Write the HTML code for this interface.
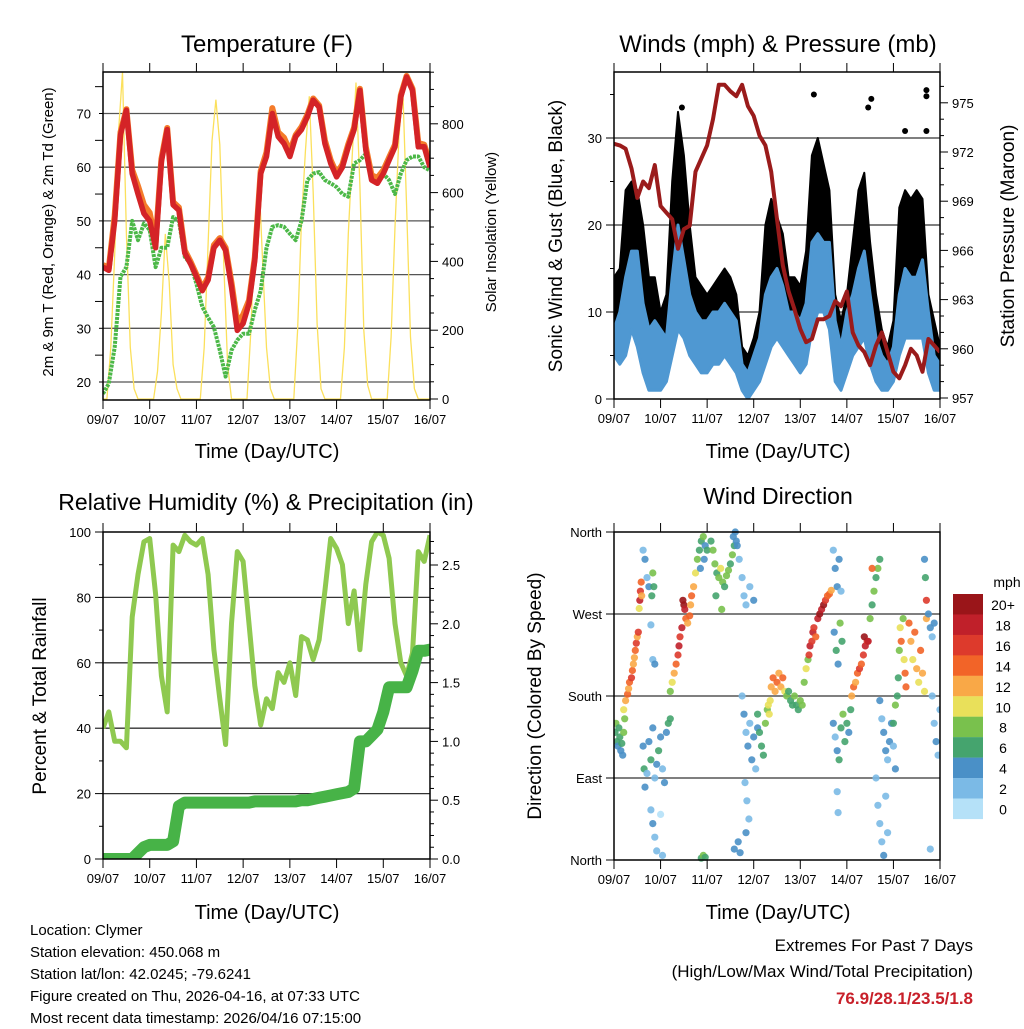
<!DOCTYPE html>
<html><head><meta charset="utf-8"><style>
body{margin:0;background:#fff}
svg text{font-family:"Liberation Sans",sans-serif;fill:#000}
</style></head><body>
<svg id="c" width="1024" height="1024" viewBox="0 0 1024 1024" xmlns="http://www.w3.org/2000/svg"></svg>
<script>
// ---- data (3-hourly, 0..168 h from 09/07 00 UTC) ----
const dayLabels=["09/07","10/07","11/07","12/07","13/07","14/07","15/07","16/07"];
const temp9m=[41.4,40.8,50,66,70.6,58.8,55,51.4,50,45,61,67,53,52,44,42,39.6,37,39,45,46.4,44.5,37.7,29.6,30.9,34.6,42.7,58.8,62,70,65.7,64.4,62,65.7,67,69.4,72.5,71.2,64.4,60.7,58.2,60,63.8,67,74.3,63.2,57.6,57,58.8,61.3,63.8,73.1,76.8,74.3,63.8,63.8,60];
const temp2m=[41.8,41.2,51,66.5,70.8,59.5,56.5,53,51.5,46,61.5,67.3,53.5,52.5,44.5,42.4,40,37.4,39.5,45.5,46.8,45,38.5,31,32.5,35.2,43.2,59.3,62.8,71,66.5,65.5,63,66,67.5,69.8,72.8,71.5,65,61.3,58.8,60.5,64.3,67.4,74.6,63.8,58.5,58,59.4,61.8,64.2,73.4,77,74.6,64.5,64.2,60.8];
const dewpt=[17.8,19.7,26.5,39.6,41.4,50,46.4,49.5,48.3,41.4,45,45,50.7,50,43.3,42,38.3,34,32,30.2,25.9,21,25.9,27.8,29,29,33.4,37,45,48.9,49.2,48.9,47.6,46.4,50,57.6,58.8,59.1,57.6,57,56.3,55,54.5,60.7,61.3,62.5,58.8,57.6,58.8,57.6,55,58.8,61.3,62,62,60,59.4];
// solar (2-hourly, 0..168 h)
const solar=[0,0,150,420,780,950,480,150,30,0,0,0, 0,0,80,250,480,340,100,30,0,0,0,0, 0,0,150,450,750,870,740,400,100,0,0,0, 0,0,200,500,660,400,150,30,0,0,0,0, 0,0,200,520,720,880,600,220,30,0,0,0, 0,0,150,480,700,920,620,200,40,0,0,0, 0,0,180,500,760,900,560,180,30,0,0,0, 0];
const pressure=[972.5,972.4,972.2,971,969.2,970.2,969.8,971.2,968.7,968.3,967.9,966.1,967.3,967.5,970.8,971.6,972.4,974,976.1,976.1,975.7,975.4,976.1,974.8,974.2,973,972.4,970.8,967.9,965.1,963.5,962.4,961.2,960.4,960.6,961.8,961.8,962,962.9,962.6,963.5,961,960.2,959.8,959,960.2,961,959.8,958.6,958.2,959,960,959.6,958.6,960.6,960.2,959.8];
const windLo=[5,4,5,8,6,3,1,1,1,2,5,8,7,5,4,3,3,4,4,5,4,3,1,0,1,2,4,6,7,6,5,4,3,4,8,10,10,8,2,1,3,5,6,7,4,2,1,1,2,5,7,7,7,7,3,1,1];
const windHi=[8,10,14,17,17,11,8,9,8,7,14,20,16,12,10,9,9,10,10,11,10,9,4,3,5,7,12,14,15,13,10,10,9,11,18,19,18,18,9,6,10,12,15,17,12,7,5,4,6,12,15,14,14,16,10,5,4];
const gustLo=[6,8,10,14,14,6,2,3,2,4,10,14,14,9,6,6,5,5,6,7,7,4,2,1,2,3,8,12,12,10,8,7,5,7,14,16,15,13,3,2,5,8,10,12,8,3,2,2,3,9,12,12,12,12,6,3,2];
const gustHi=[14,15,24,25,24,20,14,14,10,12,25,33,28,20,14,13,12,13,14,15,14,12,6,5,7,10,20,23,21,19,14,14,13,17,28,30,27,24,12,9,12,18,24,26,18,12,8,6,9,22,24,23,24,23,12,9,6];
const gustPeakHours=[35,103,131,132.6,150,161,161,161];
const gustPeakValues=[33.5,35,33.5,34.5,30.8,35.5,34.8,30.8];
const rh=[40,45,36,36,34,74,87,97,98,81,56,45,96,94,99,97,96,98,87,64,49,35,72,94,91,72,53,41,49,46,57,54,60,50,68,67,61,67,82,98,95,90,72,82,64,84,97,100,99,92,72,60,56,63,94,91,99];
const rain=[0,0,0,0,0,0,0.05,0.1,0.12,0.12,0.12,0.12,0.15,0.45,0.48,0.48,0.48,0.48,0.48,0.48,0.48,0.48,0.48,0.48,0.48,0.48,0.49,0.49,0.49,0.49,0.49,0.49,0.49,0.49,0.5,0.5,0.51,0.52,0.53,0.54,0.55,0.56,0.57,0.6,1.0,1.0,1.05,1.1,1.25,1.46,1.46,1.46,1.46,1.6,1.77,1.77,1.78];
const wdHour=[0.5,1,1.5,2,2.5,3,3.5,4,4.5,5,5.5,5,6,7,7.5,8,9,9.5,10,10.5,11,11.5,12,12.5,13,13.3,13.6,14,14.3,15,16,17,18,19,20,21,19.5,20,20.5,15,15.5,16,17,18,19,20,21,22,23,24,25,26,27,28,29,19,20,21,22,24,25,29,30,31,32,33,33.5,34,35,35.5,36,36.5,37,38,39,39.5,40,41,42,43,44,45,46,47,48,44.5,46.5,50,51,52,53,54,55,56,57,58,59,60,61,62,63,55.5,52.5,61.5,62.5,63.5,64.5,45,46,47,62,64,65,66,67,68,70,72,66,67,68,69,70,71,72,73,74,67.5,68.5,69.5,68,74,75,76,77,78,79,79.5,80,80.5,81,82,83,84,85,86,87,88,89,90,91,92,93,94,95,96,97,98,99,100,100.5,101,102,102.5,103,104,105,106,107,108,109,110,111,112,113,114,115,116,117,113.5,114.5,115.5,116.5,117.5,113,114,115,116,117,118,119,120,121,122,115,115.5,122.5,123.5,124.5,125.5,126.5,127.5,128.5,129.5,130.5,129,131,132,133,134,135,136,137,133,137,138,139,140,141,142,143,144,145,135,136,137,138,139,140,141,144,145,146,146.5,147,147.5,148,149,149.5,150,150.5,152,153,154,155,156,157,158,159,160,161,160,160.5,161,162,163,164,165,164,165,166,167,168,163];
const wdDir=[140,150,130,125,145,135,120,128,115,140,155,165,175,182,188,195,200,208,215,222,230,238,245,250,276,285,295,305,290,340,330,310,300,258,220,215,290,315,300,125,100,80,95,130,110,145,90,105,120,135,100,85,140,150,155,55,40,25,10,50,5,185,195,205,215,225,235,245,255,285,280,275,265,260,268,280,290,300,315,330,340,350,355,345,340,320,330,350,340,325,315,310,320,305,300,312,318,325,335,345,350,275,290,355,360,345,330,2,5,3,12,20,8,310,290,280,300,285,180,160,140,125,150,110,135,100,145,85,65,45,30,160,140,125,115,150,165,170,160,175,190,200,185,195,205,190,200,185,180,185,175,170,180,170,165,175,170,195,210,220,225,235,240,250,255,245,265,270,275,280,285,290,292,296,340,320,300,330,295,250,230,215,260,240,150,135,120,110,145,160,130,150,140,165,75,52,180,190,195,205,210,215,225,235,240,245,240,265,280,295,310,320,330,320,175,155,140,120,110,130,150,125,100,90,60,40,20,5,70,30,150,170,180,200,230,255,240,265,220,205,190,260,240,220,250,210,195,230,205,185,265,330,310,285,270,255,245,260,180,150,130,115,165,12];
const wdSpeed=[6,8,6,4,6,6,4,6,4,8,8,10,12,14,12,14,16,14,12,12,14,16,12,16,10,18,16,14,12,2,4,2,4,2,2,4,6,8,6,4,6,4,2,4,6,4,2,4,6,4,2,4,4,6,6,2,4,2,2,0,2,8,10,12,14,16,18,16,18,20,20,18,14,12,14,12,14,12,10,8,6,6,8,4,6,4,4,6,8,8,6,8,10,8,6,8,8,6,8,6,4,8,6,4,4,4,2,6,8,6,4,4,4,2,2,2,2,4,2,4,2,4,2,4,4,2,4,2,2,2,4,6,6,6,6,8,8,10,10,10,12,14,12,14,12,12,14,10,8,6,6,6,8,6,6,8,8,8,10,8,16,18,16,18,16,14,18,20,18,20,16,14,14,12,2,4,4,4,2,4,6,4,8,6,4,2,4,6,6,8,6,6,4,6,2,2,12,14,12,14,16,14,16,18,16,20,18,8,6,8,6,8,6,14,4,2,4,4,2,4,4,2,4,2,2,2,2,4,2,2,6,8,6,6,8,10,14,8,10,14,14,14,12,10,14,12,10,14,12,10,12,4,6,16,4,4,2,4,2,2,4,2,2,2];
const cbLabels=["20+","18","16","14","12","10","8","6","4","2","0"];
const cbColors=["#9a1519","#c0202a","#dd3a2c","#f26428","#f9a847","#e9e05a","#79c14d","#45a46e","#4a90c7","#7bbae6","#b5e1f8"];

const svg=document.getElementById('c');
const NS="http://www.w3.org/2000/svg";
function mk(tag,attrs,parent){const e=document.createElementNS(NS,tag);for(const k in attrs)e.setAttribute(k,attrs[k]);(parent||svg).appendChild(e);return e;}
function txt(s,x,y,size,anchor,parent,extra){const t=mk('text',Object.assign({x:x,y:y,'font-size':size,'text-anchor':anchor||'middle'},extra||{}),parent);t.textContent=s;return t;}
function grp(name){const g=mk('g',{});return g;}
const defs=mk('defs',{});
let clipN=0;
function clipGroup(p,parent,name){const id='clip'+(clipN++);const cp=mk('clipPath',{id:id},defs);mk('rect',{x:p.x0,y:p.y0,width:p.x1-p.x0,height:p.y1-p.y0},cp);
  const g=mk('g',{'clip-path':'url(#'+id+')'},parent);return g;}

function frame(p,name){
  const g=grp(name+'-frame');
  for(let d=0;d<=7;d++){const x=p.x0+d*(p.x1-p.x0)/7;
    mk('line',{x1:x,x2:x,y1:p.y1,y2:p.y1+9,stroke:'#000','stroke-width':1},g);
    mk('line',{x1:x,x2:x,y1:p.y0,y2:p.y0-9,stroke:'#000','stroke-width':1},g);
    const t=txt(dayLabels[d],x,p.y1+24,13,'middle',g);
    }
  return g;
}
function yAxis(p,g,min,max,major,minor,fy,labels,side){
  for(let v=min;v<=max+1e-9;v+=minor){const y=fy(v);if(y<p.y0-0.5||y>p.y1+0.5)continue;
    const isMaj=Math.abs(Math.round((v-min)/major)*major-(v-min))<1e-6;
    if(side==='left')mk('line',{x1:p.x0,x2:p.x0-(isMaj?8:4),y1:y,y2:y,stroke:'#000','stroke-width':1},g);
    else mk('line',{x1:p.x1,x2:p.x1+(isMaj?8:4),y1:y,y2:y,stroke:'#000','stroke-width':1},g);
  }
}
function labelsAt(p,g,vals,strs,fy,side,size){
  vals.forEach((v,i)=>{const y=fy(v);
    const t=side==='left'?txt(strs[i],p.x0-12,y+5,size||13,'end',g):txt(strs[i],p.x1+12,y+5,size||13,'start',g);
    });
}
function gridLines(p,g,vals,fy,col){vals.forEach(v=>{const y=fy(v);mk('line',{x1:p.x0,x2:p.x1,y1:y,y2:y,stroke:col||'#333','stroke-width':1.3},g);});}
function box(p,g){mk('rect',{x:p.x0,y:p.y0,width:p.x1-p.x0,height:p.y1-p.y0,fill:'none',stroke:'#000','stroke-width':1.5},g);}
function path(pts){return pts.map((q,i)=>(i?'L':'M')+q[0].toFixed(1)+','+q[1].toFixed(1)).join('');}
function rotText(s,x,y,size,g,name){const t=txt(s,0,0,size,'middle',g,{transform:'translate('+x+','+y+') rotate(-90)'});return t;}
function title(s,x,y,size,name){const t=txt(s,x,y,size,'middle');return t;}

// ================= Panel 1: Temperature =================
{const p={x0:103,x1:430,y0:72,y1:400};
 const xh=h=>p.x0+h*(p.x1-p.x0)/168;
 const yT=v=>382-(v-20)*5.37;
 const yS=v=>399-v*0.344;
 const g=frame(p,'temperature');
 gridLines(p,g,[20,30,40,50,60,70],yT,'#555');
 const c=clipGroup(p,g,'temperature-plot-area');
 const s=mk('path',{d:path(solar.map((v,i)=>[xh(i*2),yS(v)])),fill:'none',stroke:'#fbe05c','stroke-width':1.3},c);
 
 const dp=mk('path',{d:path(dewpt.map((v,i)=>[xh(i*3),yT(v)])),fill:'none',stroke:'#4cb848','stroke-width':4,'stroke-linejoin':'round','stroke-dasharray':'3 1'},c);
 
 const o=mk('path',{d:path(temp2m.map((v,i)=>[xh(i*3),yT(v)])),fill:'none',stroke:'#f47b2a','stroke-width':6,'stroke-linejoin':'round'},c);
 
 const r=mk('path',{d:path(temp9m.map((v,i)=>[xh(i*3),yT(v)])),fill:'none',stroke:'#d42327','stroke-width':5.5,'stroke-linejoin':'round'},c);
 
 yAxis(p,g,15,75,10,5,yT,null,'left');
 labelsAt(p,g,[20,30,40,50,60,70],['20','30','40','50','60','70'],yT,'left');
 yAxis(p,g,0,950,200,50,yS,null,'right');
 labelsAt(p,g,[0,200,400,600,800],['0','200','400','600','800'],yS,'right');
 box(p,g);
 title('Temperature (F)',267,52,24,'temperature-title');
 title('Time (Day/UTC)',267,458,20,'temperature-x-title');
 rotText('2m & 9m T (Red, Orange) & 2m Td (Green)',53,232,15,g,'temperature-y-title');
 rotText('Solar Insolation (Yellow)',496,232,15,g,'solar-y-title');
}
// ================= Panel 2: Winds =================
{const p={x0:614,x1:940,y0:72,y1:399};
 const xh=h=>p.x0+h*(p.x1-p.x0)/168;
 const yW=v=>399-v*8.7;
 const yP=v=>398-(v-957)*16.4;
 const g=frame(p,'winds');
 gridLines(p,g,[10,20,30],yW,'#333');
 const c=clipGroup(p,g,'winds-plot-area');
 const gb=gustHi.map((v,i)=>[xh(i*3),yW(v)]).concat(gustLo.map((v,i)=>[xh(i*3),yW(v)]).reverse());
 const gp=mk('path',{d:path(gb)+'Z',fill:'#000',stroke:'#000','stroke-width':2,'stroke-linejoin':'round'},c);
 
 gustPeakHours.forEach((h,i)=>{const d=mk('circle',{cx:xh(h),cy:yW(gustPeakValues[i]),r:3,fill:'#000'},c);
  });
 const wb=windHi.map((v,i)=>[xh(i*3),yW(v)]).concat(windLo.map((v,i)=>[xh(i*3),yW(v)]).reverse());
 const wp=mk('path',{d:path(wb)+'Z',fill:'#4f98d2',stroke:'#4f98d2','stroke-width':3,'stroke-linejoin':'round'},c);
 
 const pr=mk('path',{d:path(pressure.map((v,i)=>[xh(i*3),yP(v)])),fill:'none',stroke:'#9a1b1b','stroke-width':4,'stroke-linejoin':'round'},c);
 
 yAxis(p,g,0,37,10,5,yW,null,'left');
 labelsAt(p,g,[0,10,20,30],['0','10','20','30'],yW,'left');
 yAxis(p,g,957,976,3,1,yP,null,'right');
 labelsAt(p,g,[957,960,963,966,969,972,975],['957','960','963','966','969','972','975'],yP,'right');
 box(p,g);
 title('Winds (mph) & Pressure (mb)',778,52,24,'winds-title');
 title('Time (Day/UTC)',778,458,20,'winds-x-title');
 rotText('Sonic Wind & Gust (Blue, Black)',562,236,19,g,'wind-y-title');
 rotText('Station Pressure (Maroon)',1014,236,19,g,'pressure-y-title');
}
// ================= Panel 3: RH & Precip =================
{const p={x0:103,x1:430,y0:532,y1:859};
 const xh=h=>p.x0+h*(p.x1-p.x0)/168;
 const yH=v=>859-v*3.27;
 const yR=v=>859-v*117.6;
 const g=frame(p,'humidity');
 gridLines(p,g,[20,40,60,80],yH,'#333');
 const c=clipGroup(p,g,'humidity-plot-area');
 const rl=mk('path',{d:path(rh.map((v,i)=>[xh(i*3),yH(v)])),fill:'none',stroke:'#8fc950','stroke-width':5,'stroke-linejoin':'round'},c);
 
 const rp=mk('path',{d:path(rain.map((v,i)=>[xh(i*3),yR(v)])),fill:'none',stroke:'#47b347','stroke-width':12,'stroke-linejoin':'round','stroke-linecap':'round'},c);
 
 yAxis(p,g,0,100,20,10,yH,null,'left');
 labelsAt(p,g,[0,20,40,60,80,100],['0','20','40','60','80','100'],yH,'left');
 yAxis(p,g,0,2.7,0.5,0.1,yR,null,'right');
 labelsAt(p,g,[0,0.5,1,1.5,2,2.5],['0.0','0.5','1.0','1.5','2.0','2.5'],yR,'right');
 box(p,g);
 title('Relative Humidity (%) & Precipitation (in)',266,510,23,'humidity-title');
 title('Time (Day/UTC)',267,919,20,'humidity-x-title');
 rotText('Percent & Total Rainfall',46,696,19,g,'humidity-y-title');
}
// ================= Panel 4: Wind Direction =================
{const p={x0:614,x1:940,y0:532,y1:860};
 const xh=h=>p.x0+h*(p.x1-p.x0)/168;
 const yD=d=>860-d*328/360;
 const g=frame(p,'wind-direction');
 gridLines(p,g,[90,180,270],yD,'#333');
 const cg=clipGroup({x0:p.x0,x1:p.x1,y0:p.y0-4,y1:p.y1+4},g,'wind-direction-plot-area');
 const colFor=s=>{let b=Math.min(10,Math.round(s/2));return cbColors[10-b];};
 wdHour.forEach((h,i)=>{const c=mk('circle',{cx:xh(h).toFixed(1),cy:yD(wdDir[i]).toFixed(1),r:3.6,fill:colFor(wdSpeed[i]),'fill-opacity':0.9},cg);
  });
 yAxis(p,g,0,360,90,90,yD,null,'left');
 labelsAt(p,g,[0,90,180,270,360],['North','East','South','West','North'],yD,'left',13);
 box(p,g);
 title('Wind Direction',778,504,23,'wind-direction-title');
 title('Time (Day/UTC)',778,919,20,'wind-direction-x-title');
 rotText('Direction (Colored By Speed)',541,696,19,g,'wind-direction-y-title');
 const cb=grp('speed-colorbar');
 cbColors.forEach((c,i)=>{const r=mk('rect',{x:953,y:594+i*20.45,width:30,height:20.6,fill:c},cb);
  
  const t=txt(cbLabels[i],1003,594+i*20.45+16,14,'middle',cb);
  });
 const m=txt('mph',1007,587,14,'middle',cb);
}
// ================= Footer text =================
{const g=grp('station-info');
 ["Location: Clymer","Station elevation: 450.068 m","Station lat/lon: 42.0245; -79.6241","Figure created on Thu, 2026-04-16, at 07:33 UTC","Most recent data timestamp: 2026/04/16 07:15:00"].forEach((s,i)=>{
  const t=txt(s,30,935+i*22,15,'start',g);});
 const g2=grp('extremes-summary');
 let t=txt('Extremes For Past 7 Days',973,951,17,'end',g2);
 t=txt('(High/Low/Max Wind/Total Precipitation)',973,977,17,'end',g2);
 t=txt('76.9/28.1/23.5/1.8',973,1004,17,'end',g2,{'font-weight':'bold',fill:'#c8202a',style:'fill:#c8202a'});
}
</script>
</body></html>
